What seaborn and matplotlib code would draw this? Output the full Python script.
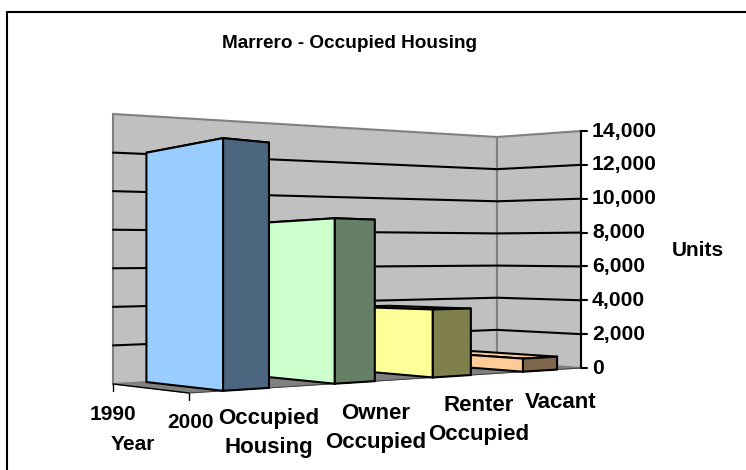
import numpy as np
import pandas as pd
import seaborn as sns
import matplotlib
matplotlib.use('Agg')
import matplotlib.pyplot as plt

# data
categories = ['Occupied\nHousing', 'Owner\nOccupied', 'Renter\nOccupied', 'Vacant']
units = [12100, 8500, 3700, 750]
axis_ticks = [0, 2000, 4000, 6000, 8000, 10000, 12000, 14000]
years = ['1990', '2000']
face_colors = ['#99CCFF', '#CCFFCC', '#FFFF99', '#FFCC99']
side_colors = ['#4D6680', '#668066', '#80804D', '#80664D']

sns.set_theme(style='white')
plt.rcParams['font.family'] = ['Liberation Sans', 'DejaVu Sans']
plt.rcParams['font.weight'] = 'bold'
plt.rcParams['text.color'] = 'black'

# floor corners in pixels, and pixels per 14000 units at each
A = np.array([113.0, 384.0])   # back left
B = np.array([497.0, 362.0])   # back corner
C = np.array([581.0, 368.0])   # right
D = np.array([189.0, 393.0])   # front left
px_top = {'A': 270.0, 'B': 225.0, 'C': 237.0, 'D': 299.0}

# bar edges along the category axis, as fraction of the floor
bar_left = [0.087, 0.372, 0.622, 0.852]
bar_right = [0.204, 0.474, 0.719, 0.939]

LW = 1.5


def project(u, v, h):
    # u along categories, v depth (1 at back wall), h in units
    back = A + (B - A) * u
    front = D + (C - D) * u
    p = front + (back - front) * v
    inv_back = 1 / px_top['A'] + (1 / px_top['B'] - 1 / px_top['A']) * u
    inv_front = 1 / px_top['D'] + (1 / px_top['C'] - 1 / px_top['D']) * u
    scale = 1 / (inv_front + (inv_back - inv_front) * v)
    return p[0], p[1] - h / 14000 * scale


def poly(ax, pts, color, z, ec='black', lw=LW):
    xy = np.array(pts)
    ax.fill(xy[:, 0], xy[:, 1], facecolor=color, edgecolor=ec, linewidth=lw,
            joinstyle='miter', zorder=z)


fig = plt.figure(figsize=(7.46, 4.7), dpi=100)
ax = fig.add_axes([0, 0, 1, 1])
ax.axis('off')

# walls and floor
top = axis_ticks[-1]
poly(ax, [project(0, 1, 0), project(1, 1, 0), project(1, 1, top), project(0, 1, top)], '#C0C0C0', 1, ec='#808080')
poly(ax, [project(1, 1, 0), project(1, 0, 0), project(1, 0, top), project(1, 1, top)], '#C0C0C0', 1, ec='#808080')
poly(ax, [project(0, 1, 0), project(1, 1, 0), project(1, 0, 0), project(0, 0, 0)], '#808080', 1.5, ec='#808080', lw=0.7)

# gridlines and axis ticks
rows = []
for t in axis_ticks[1:-1]:
    pts = [project(0, 1, t), project(1, 1, t), project(1, 0, t)]
    for i, p in enumerate(pts):
        rows.append({'grid': t, 'order': i, 'x': p[0], 'y': p[1]})
grid = pd.DataFrame(rows)
sns.lineplot(data=grid, x='x', y='y', units='grid', estimator=None, sort=False,
             color='black', lw=LW, ax=ax, legend=False, zorder=2)

rows = []
for t in axis_ticks:
    x0, y0 = project(1, 0, t)
    rows += [{'t': t, 'x': x0, 'y': y0}, {'t': t, 'x': x0 + 6, 'y': y0}]
ticks = pd.DataFrame(rows)
sns.lineplot(data=ticks, x='x', y='y', units='t', estimator=None, sort=False,
             color='black', lw=LW, ax=ax, legend=False, zorder=2)
ax.plot([project(1, 0, 0)[0]] * 2, [project(1, 0, 0)[1], project(1, 0, top)[1]], color='black', lw=LW, zorder=2)

# depth axis and category axis base lines
ax.plot([project(0, 1, 0)[0], project(0, 0, 0)[0]], [project(0, 1, 0)[1], project(0, 0, 0)[1]], color='black', lw=1, zorder=2)
ax.plot([project(0, 0, 0)[0], project(1, 0, 0)[0]], [project(0, 0, 0)[1], project(1, 0, 0)[1]], color='#404040', lw=0.7, zorder=2)
for v in [1, 0]:
    x0, y0 = project(0, v, 0)
    ax.plot([x0, x0], [y0, y0 + 7], color='black', lw=1, zorder=2)

# bars, the left ones hide the ones to their right
for i in range(len(units) - 1, -1, -1):
    l, r, h = bar_left[i], bar_right[i], units[i]
    z = 10 - i
    poly(ax, [project(l, 1, h), project(r, 1, h), project(r, 0, h), project(l, 0, h)], face_colors[i], z)
    poly(ax, [project(l, 1, 0), project(l, 0, 0), project(l, 0, h), project(l, 1, h)], face_colors[i], z)
    poly(ax, [project(l, 0, 0), project(r, 0, 0), project(r, 0, h), project(l, 0, h)], side_colors[i], z)

# text
ax.text(350, 44, 'Marrero - Occupied Housing', ha='center', va='center', fontsize=13.7)
for t in axis_ticks:
    ax.text(592, project(1, 0, t)[1], f'{t:,}', ha='left', va='center', fontsize=15.2)
ax.text(698, 250, 'Units', ha='center', va='center', fontsize=15)
ax.text(113, 415, years[0], ha='center', va='center', fontsize=15)
ax.text(190, 423, years[1], ha='center', va='center', fontsize=15)
ax.text(133, 445, 'Year', ha='center', va='center', fontsize=15)
cat_x = [269, 376, 479, 561]
cat_y = [433, 428, 420, 402]
for name, x0, y0 in zip(categories, cat_x, cat_y):
    ax.text(x0, y0, name, ha='center', va='center', fontsize=16, linespacing=1.55)

# chart frame
ax.plot([7, 7, 746], [470, 12, 12], color='black', lw=LW, zorder=2)

ax.set_xlim(0, 746)
ax.set_ylim(470, 0)
ax.axis('off')

fig.savefig('out.png', dpi=100)
